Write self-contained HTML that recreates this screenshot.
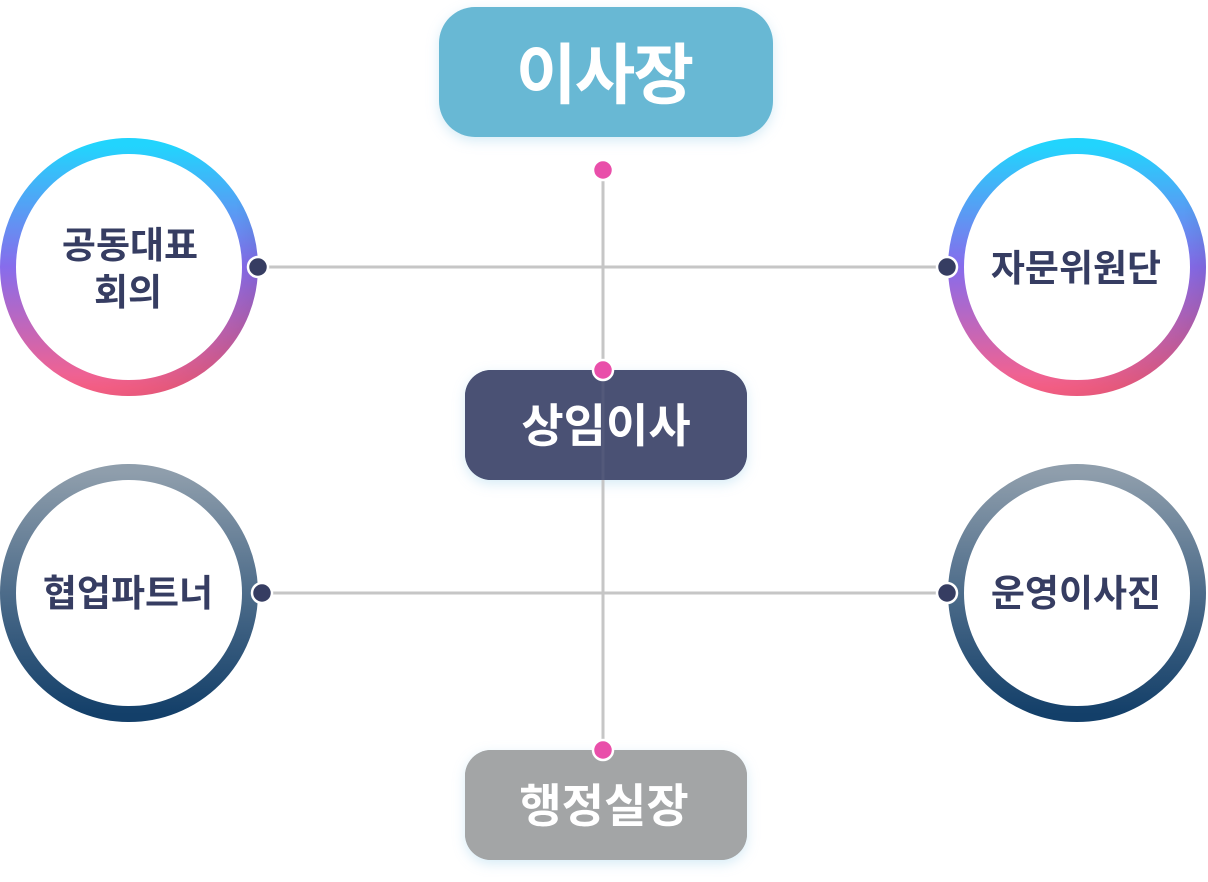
<!DOCTYPE html>
<html><head><meta charset="utf-8">
<style>
html,body{margin:0;padding:0;background:#fff;}
body{width:1208px;height:877px;overflow:hidden;}
svg text{font-family:"Liberation Sans","Noto Sans CJK KR",sans-serif;font-weight:bold;}
</style></head>
<body>
<svg width="1208" height="877" viewBox="0 0 1208 877" xmlns="http://www.w3.org/2000/svg">
<defs>
  <linearGradient id="gA" x1="0" y1="0" x2="0" y2="1">
    <stop offset="0" stop-color="#22d4fd"/>
    <stop offset="0.5" stop-color="#876cec"/>
    <stop offset="1" stop-color="#fc6188"/>
  </linearGradient>
  <linearGradient id="gB" x1="0" y1="0" x2="0" y2="1">
    <stop offset="0" stop-color="#8f9eac"/>
    <stop offset="0.5" stop-color="#4d6c8a"/>
    <stop offset="1" stop-color="#133f69"/>
  </linearGradient>
  <radialGradient id="shade" cx="0.3" cy="0.3" r="0.8">
    <stop offset="0.8" stop-color="#000" stop-opacity="0"/>
    <stop offset="1" stop-color="#000" stop-opacity="0.1"/>
  </radialGradient>
  <filter id="glow" x="-20%" y="-30%" width="140%" height="160%">
    <feGaussianBlur in="SourceAlpha" stdDeviation="6"/>
    <feOffset dx="0" dy="4" result="b"/>
    <feFlood flood-color="#8cc8e6" flood-opacity="0.35"/>
    <feComposite in2="b" operator="in"/>
    <feMerge><feMergeNode/><feMergeNode in="SourceGraphic"/></feMerge>
  </filter>
</defs>

<!-- connectors -->
<line x1="258" y1="267" x2="947" y2="267" stroke="#c6c6c6" stroke-width="3"/>
<line x1="262" y1="593" x2="947" y2="593" stroke="#c6c6c6" stroke-width="3"/>

<!-- boxes -->
<rect x="439" y="7" width="334" height="130" rx="36" fill="#68b8d4" filter="url(#glow)"/>
<text x="604" y="98" font-size="66" fill="#fff" text-anchor="middle" letter-spacing="-2">이사장</text>

<rect x="465" y="370" width="282" height="110" rx="26" fill="#4a5174" filter="url(#glow)"/>
<rect x="465" y="750" width="282" height="110" rx="26" fill="#a3a5a6" filter="url(#glow)"/>

<line x1="603" y1="170" x2="603" y2="750" stroke="#c6c6c6" stroke-width="3"/>
<rect x="465" y="370" width="282" height="110" rx="26" fill="#4a5174" opacity="0.93"/>
<rect x="465" y="750" width="282" height="110" rx="26" fill="#a3a5a6"/>

<text x="606" y="442" font-size="46" fill="#fff" text-anchor="middle">상임이사</text>
<text x="604" y="822" font-size="46" fill="#fff" text-anchor="middle">행정실장</text>

<!-- circles -->
<circle cx="129" cy="267" r="121" fill="#fff" stroke="url(#gA)" stroke-width="16"/>
<circle cx="129" cy="267" r="121" fill="none" stroke="url(#shade)" stroke-width="16"/>
<circle cx="1077" cy="267" r="121" fill="#fff" stroke="url(#gA)" stroke-width="16"/>
<circle cx="1077" cy="267" r="121" fill="none" stroke="url(#shade)" stroke-width="16"/>
<circle cx="129" cy="593" r="121" fill="#fff" stroke="url(#gB)" stroke-width="16"/>
<circle cx="1077" cy="593" r="121" fill="#fff" stroke="url(#gB)" stroke-width="16"/>

<text x="130" y="258" font-size="37" fill="#363d62" text-anchor="middle">공동대표</text>
<text x="128" y="305" font-size="37" fill="#363d62" text-anchor="middle">회의</text>
<text x="1076" y="281" font-size="37" fill="#363d62" text-anchor="middle">자문위원단</text>
<text x="128" y="606" font-size="37" fill="#363d62" text-anchor="middle">협업파트너</text>
<text x="1076" y="606" font-size="37" fill="#363d62" text-anchor="middle">운영이사진</text>

<!-- dots -->
<g stroke="#fff" stroke-width="2.5">
  <circle cx="258" cy="267" r="10" fill="#363d62"/>
  <circle cx="262" cy="593" r="10" fill="#363d62"/>
  <circle cx="947" cy="267" r="10" fill="#363d62"/>
  <circle cx="947" cy="593" r="10" fill="#363d62"/>
  <circle cx="603" cy="170" r="10" fill="#e94faa"/>
  <circle cx="603" cy="370" r="10" fill="#e94faa"/>
  <circle cx="603" cy="750" r="10" fill="#e94faa"/>
</g>
</svg>
</body></html>
